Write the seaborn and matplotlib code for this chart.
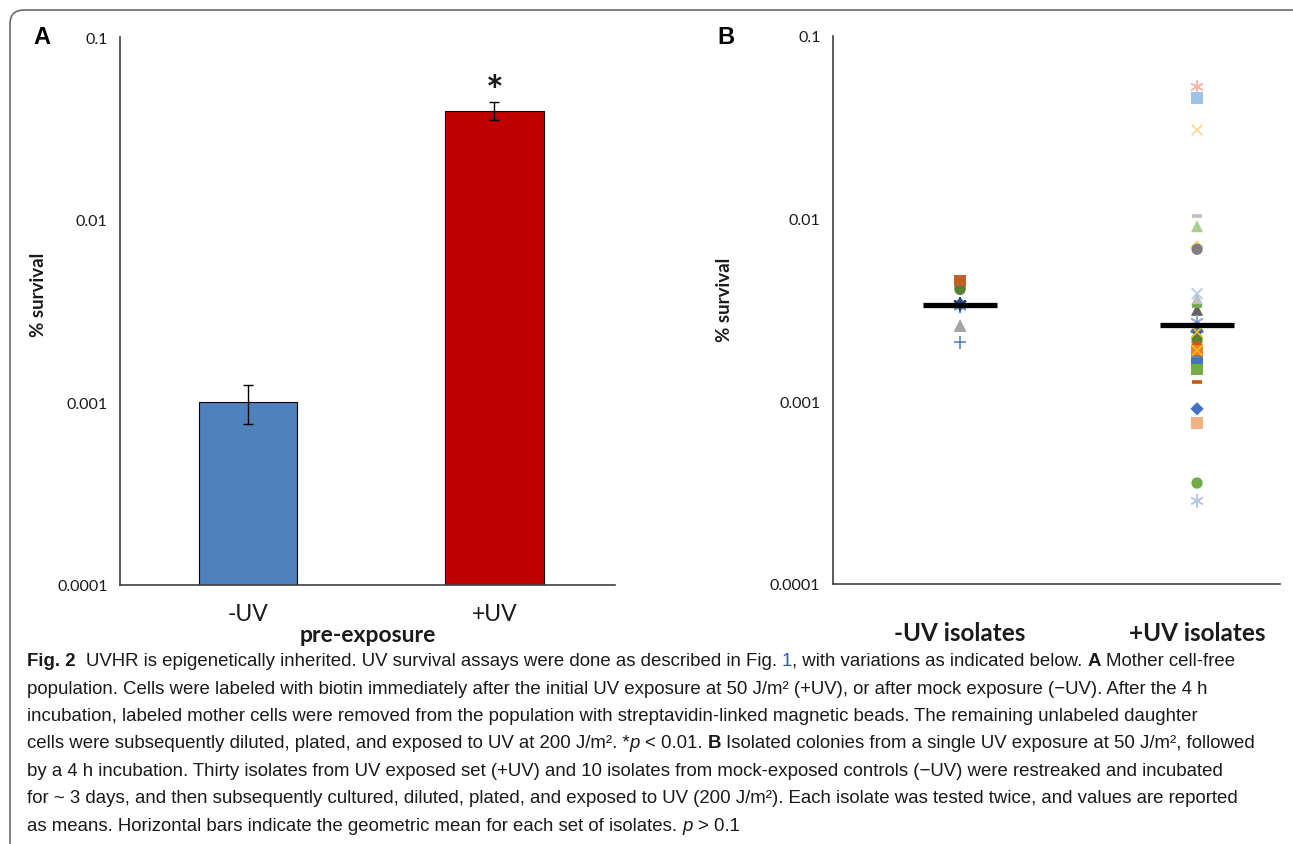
import numpy as np
import pandas as pd
import matplotlib
matplotlib.use("Agg")
import matplotlib.pyplot as plt
import seaborn as sns
from matplotlib.patches import FancyBboxPatch
from matplotlib.transforms import IdentityTransform

# ---------------- data ----------------
bar_categories = ["-UV", "+UV"]
bar_values = [0.001, 0.0395]
bar_errors = [0.00024, 0.0045]

scatter_groups = ["-UV isolates", "+UV isolates"]
minus_uv_survival = [0.0046, 0.0045, 0.0042, 0.0041, 0.0034, 0.0033, 0.0034,
                     0.0026, 0.0026, 0.0021]
plus_uv_survival = [0.0526, 0.0458, 0.0306, 0.01035, 0.0091, 0.0070, 0.0068,
                    0.00389, 0.00363, 0.00333, 0.00317, 0.00272, 0.00250,
                    0.00243, 0.0024, 0.0022, 0.0021, 0.0019, 0.0019, 0.0018,
                    0.00166, 0.0016, 0.00154, 0.0015, 0.00128, 0.00091,
                    0.00076, 0.000357, 0.000285, 0.0020]
geo_means = [0.00335, 0.00262]

ytick_values = [0.0001, 0.001, 0.01, 0.1]
ytick_labels = ["0.0001", "0.001", "0.01", "0.1"]

# ---------------- styles (Excel auto markers) ----------------
minus_uv_markers = ["s", "_", "o", "o", "D", "ast", "star", "^", "^", "+"]
minus_uv_colors = ["#C0622A", "#9E480E", "#5A8F2E", "#548235", "#2F5597",
                   "#5B9BD5", "#264478", "#7F7F7F", "#A5A5A5", "#5B7FC4"]
plus_uv_markers = ["ast", "s", "x", "_", "^", "D", "o", "x", "^", "_", "^",
                   "ast", "star", "D", "x", "o", "+", "s", "x", "o", "s", "s",
                   "+", "s", "_", "D", "s", "o", "ast", "o"]
plus_uv_colors = ["#F4B6A6", "#9DC3E6", "#FFD78A", "#BFBFBF", "#A9D18E",
                  "#FFD966", "#7F7F7F", "#B4C7E7", "#BFBFBF", "#70AD47",
                  "#636363", "#8FAADC", "#4472C4", "#2F5597", "#FFC000",
                  "#548235", "#C9A100", "#ED7D31", "#FFC000", "#F8CBAD",
                  "#7F7F7F", "#4472C4", "#B5B800", "#70AD47", "#C55A11",
                  "#4472C4", "#F4B183", "#70AD47", "#B4C7E7", "#C55A11"]

W, H = 1293, 845
sns.set_theme(style="white")
plt.rcParams["font.family"] = ["Lato", "DejaVu Sans"]
TXT = "#1a1a1a"
AXC = "#404040"

fig = plt.figure(figsize=(W / 100, H / 100), dpi=100)
fig.patch.set_facecolor("white")


def ax_rect(l, t, r, b):
    return [l / W, 1 - b / H, (r - l) / W, (b - t) / H]


def style_log_axis(ax):
    ax.set_yscale("log")
    ax.set_ylim(ytick_values[0], ytick_values[-1])
    ax.set_yticks(ytick_values)
    ax.set_yticklabels(ytick_labels)
    ax.yaxis.set_minor_locator(matplotlib.ticker.NullLocator())
    for s in ["top", "right"]:
        ax.spines[s].set_visible(False)
    for s in ["left", "bottom"]:
        ax.spines[s].set_color(AXC)
        ax.spines[s].set_linewidth(1.2)
    ax.tick_params(axis="y", which="major", direction="out", length=5,
                   width=1.1, color=AXC, labelsize=11.5, labelcolor=TXT, pad=4)
    ax.set_facecolor("white")
    ax.grid(False)


# ---------------- panel A ----------------
axA = fig.add_axes(ax_rect(120, 38, 615, 586))
sns.barplot(x=bar_categories, y=bar_values, hue=bar_categories,
            palette=["#4F81BD", "#C00000"], saturation=1, legend=False,
            width=0.4, edgecolor="black", linewidth=0.8, errorbar=None, ax=axA)
style_log_axis(axA)
axA.errorbar(x=np.arange(len(bar_values)), y=bar_values, yerr=bar_errors,
             fmt="none", ecolor="black", elinewidth=1.0, capsize=3.5,
             capthick=1.0, zorder=5)
xl = (-0.52, 1.49)
axA.set_xlim(*xl)
axA.set_xticks(range(len(bar_categories)))
axA.set_xticklabels(bar_categories, fontsize=16.5, color=TXT)
axA.tick_params(axis="x", which="major", length=0, pad=13)
axA.set_xticks([xl[0], 0.5, xl[1]], minor=True)
axA.tick_params(axis="x", which="minor", direction="out", length=6,
                width=1.1, color=AXC)
axA.set_xlabel("pre-exposure", fontsize=16.5, fontweight="bold", color=TXT,
               labelpad=0)
axA.set_ylabel("")
axA.annotate("*", xy=(1, bar_values[1] + bar_errors[1]), xytext=(0, -7),
             textcoords="offset points", ha="center", va="bottom",
             fontsize=30, fontweight="bold", color=TXT)

# ---------------- panel B ----------------
axB = fig.add_axes(ax_rect(833, 37, 1280, 585))
style_log_axis(axB)

rows = []
for gi, (vals, mks, cols) in enumerate([
        (minus_uv_survival, minus_uv_markers, minus_uv_colors),
        (plus_uv_survival, plus_uv_markers, plus_uv_colors)]):
    for k, (v, m, c) in enumerate(zip(vals, mks, cols)):
        rows.append({"pos": gi, "survival": v, "id": f"{gi}-{k}",
                     "marker": m, "color": c})
df = pd.DataFrame(rows)

marker_map = {
    "s": dict(marker="s", s=66, linewidth=0, edgecolor="none"),
    "o": dict(marker="o", s=66, linewidth=0, edgecolor="none"),
    "^": dict(marker="^", s=76, linewidth=0, edgecolor="none"),
    "D": dict(marker="D", s=46, linewidth=0, edgecolor="none"),
    "x": dict(marker="x", s=60, linewidth=1.2),
    "+": dict(marker="+", s=80, linewidth=1.2),
    "_": dict(marker="_", s=55, linewidth=2.6),
    "ast": dict(marker=(6, 2, 0), s=75, linewidth=1.1),
    "star": dict(marker=(6, 2, 0), s=75, linewidth=1.6),
}
for mk, sub in df.groupby("marker"):
    pal = dict(zip(sub["id"], sub["color"]))
    sns.scatterplot(data=sub, x="pos", y="survival", hue="id", palette=pal,
                    legend=False, ax=axB, zorder=3, **marker_map[mk])
style_log_axis(axB)
half = 0.158
axB.hlines(geo_means, np.arange(len(geo_means)) - half,
           np.arange(len(geo_means)) + half, colors="black",
           linewidth=3.8, zorder=6)
axB.set_xlim(-0.536, 1.35)
axB.set_xticks(range(len(scatter_groups)))
axB.set_xticklabels(scatter_groups, fontsize=17.5, fontweight="bold", color=TXT)
axB.tick_params(axis="x", which="major", direction="out", length=6,
                width=1.1, color=AXC, pad=21)
axB.set_xlabel("")
axB.set_ylabel("")

# ---------------- labels ----------------
fig.text(33 / W, 1 - 38 / H, "A", fontsize=17, fontweight="bold",
         family=["Liberation Sans", "DejaVu Sans"], ha="left", va="center",
         color="black")
fig.text(717 / W, 1 - 38 / H, "B", fontsize=17, fontweight="bold",
         family=["Liberation Sans", "DejaVu Sans"], ha="left", va="center",
         color="black")
fig.text(38 / W, 1 - 295 / H, "% survival", rotation=90, fontsize=13.5,
         fontweight="bold", ha="center", va="center", color=TXT)
fig.text(724 / W, 1 - 300 / H, "% survival", rotation=90, fontsize=13.5,
         fontweight="bold", ha="center", va="center", color=TXT)

# ---------------- border ----------------
border = FancyBboxPatch((10, -40), 1320, H - 11 + 40,
                        boxstyle="round,pad=0,rounding_size=14",
                        transform=IdentityTransform(), facecolor="none",
                        edgecolor="#6b6b6b", linewidth=1.2)
fig.add_artist(border)

# ---------------- caption ----------------
cap_family = ["Liberation Sans", "DejaVu Sans"]

renderer = fig.canvas.get_renderer()
styles = {
    "n": dict(),
    "b": dict(fontweight="bold"),
    "i": dict(style="italic"),
    "l": dict(color="#2B5DB8"),
}


def measure(s, size, st):
    kw = dict(styles[st])
    kw.setdefault("color", TXT)
    t1 = fig.text(0, 0, "|" + s + "|", fontsize=size, family=cap_family, **kw)
    t2 = fig.text(0, 0, "||", fontsize=size, family=cap_family, **kw)
    w = t1.get_window_extent(renderer).width - t2.get_window_extent(renderer).width
    t1.remove()
    t2.remove()
    return w


def draw_line(x, y, segs, size):
    for s, st in segs:
        stripped = s.lstrip(" ")
        lead = len(s) - len(stripped)
        if lead:
            x += measure(" " * lead, size, st)
        kw = dict(styles[st])
        kw.setdefault("color", TXT)
        fig.text(x / W, 1 - y / H, stripped, fontsize=size, family=cap_family,
                 ha="left", va="baseline", **kw)
        x += measure(stripped, size, st)
    return x


caption = [
    [("Fig. 2", "b"), ("  UVHR is epigenetically inherited. UV survival assays were done as described in Fig.", "n"),
     (" 1", "l"), (", with variations as indicated below.", "n"), (" A", "b"), (" Mother cell-free", "n")],
    [("population. Cells were labeled with biotin immediately after the initial UV exposure at 50 J/m² (+UV), or after mock exposure (\u2212UV). After the 4 h", "n")],
    [("incubation, labeled mother cells were removed from the population with streptavidin-linked magnetic beads. The remaining unlabeled daughter", "n")],
    [("cells were subsequently diluted, plated, and exposed to UV at 200 J/m². *", "n"), ("p", "i"),
     (" < 0.01.", "n"), (" B", "b"), (" Isolated colonies from a single UV exposure at 50 J/m², followed", "n")],
    [("by a 4 h incubation. Thirty isolates from UV exposed set (+UV) and 10 isolates from mock-exposed controls (\u2212UV) were restreaked and incubated", "n")],
    [("for ~ 3 days, and then subsequently cultured, diluted, plated, and exposed to UV (200 J/m²). Each isolate was tested twice, and values are reported", "n")],
    [("as means. Horizontal bars indicate the geometric mean for each set of isolates.", "n"), (" p", "i"), (" > 0.1", "n")],
]

base = 10.0
w1 = sum(measure(s, base, st) for s, st in caption[0])
cap_size = base * (1245 - 27) / w1
for i, segs in enumerate(caption):
    draw_line(27, 666 + 27.5 * i, segs, cap_size)

fig.savefig("out.png", dpi=100, facecolor="white")
